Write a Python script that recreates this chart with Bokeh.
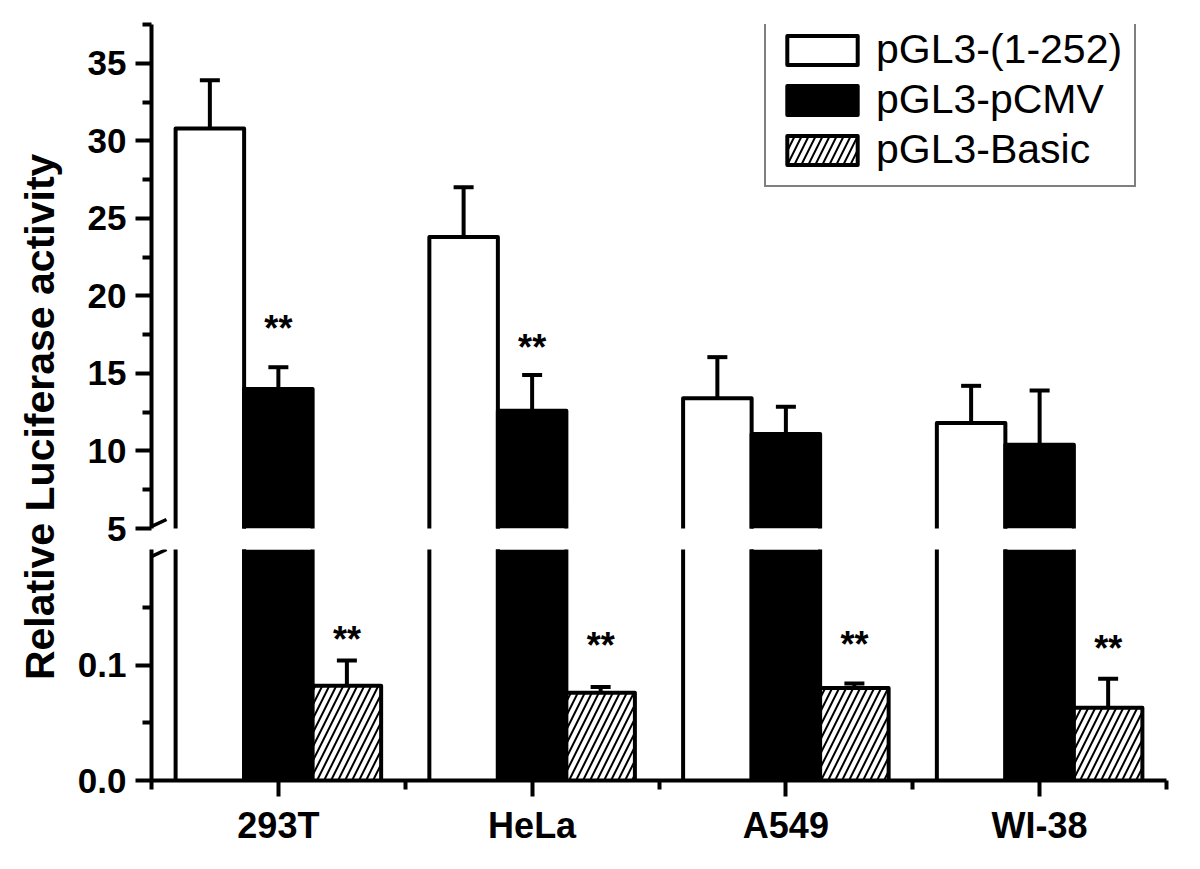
import math
from bokeh.plotting import figure
from bokeh.models import (Range1d, FixedTicker, PrintfTickFormatter, Whisker, TeeHead,
                          ColumnDataSource, Legend, LegendItem)
from bokeh.layouts import row, column
from bokeh.core.properties import value
from bokeh.embed import file_html
from bokeh.resources import INLINE

# ---------------- data ----------------
cells = ["293T", "HeLa", "A549", "WI-38"]
series = ["pGL3-(1-252)", "pGL3-pCMV", "pGL3-Basic"]

v_1_252 = [30.8, 23.8, 13.4, 11.8]
e_1_252 = [3.1, 3.2, 2.65, 2.4]
v_pcmv = [14.0, 12.6, 11.1, 10.4]
e_pcmv = [1.4, 2.3, 1.75, 3.5]
v_basic = [0.082, 0.076, 0.080, 0.063]
e_basic = [0.022, 0.005, 0.004, 0.025]

sig_pcmv = ["**", "**", "", ""]
sig_pcmv_y = [17.9, 16.7, 0, 0]
sig_basic = ["**", "**", "**", "**"]
sig_basic_y = [0.122, 0.117, 0.118, 0.114]

upper_ticks = [5, 10, 15, 20, 25, 30, 35]
upper_minor = [7.5, 12.5, 17.5, 22.5, 27.5, 32.5, 37.5]
lower_ticks = [0.0, 0.1]
lower_minor = [0.05, 0.15]
upper_span = (5, 37.5)
lower_span = (0, 0.2)
y_title = "Relative Luciferase activity"

# ---------------- style ----------------
FONT = "Liberation Sans"
OFF = 0.27
BW = 0.27
LW = 4
NAN = float("nan")

xs = [i + 1 for i in range(len(cells))]
x_white = [x - OFF for x in xs]
x_black = xs
x_hatch = [x + OFF for x in xs]

STYLES = [
    dict(fill_color="white"),
    dict(fill_color="black"),
    dict(fill_color="white", hatch_pattern="/", hatch_color="black", hatch_weight=2, hatch_scale=14),
]


def style_axis(ax, size="35px"):
    ax.axis_line_width = LW
    ax.axis_line_color = "black"
    ax.major_tick_line_width = LW
    ax.minor_tick_line_width = LW
    ax.major_tick_line_color = "black"
    ax.minor_tick_line_color = "black"
    ax.major_tick_out = 16
    ax.major_tick_in = 0
    ax.minor_tick_out = 9
    ax.minor_tick_in = 0
    ax.major_label_text_font = FONT
    ax.major_label_text_font_style = "bold"
    ax.major_label_text_font_size = size
    ax.major_label_text_color = "black"


def make_fig(height, yr, top, bottom, xaxis):
    p = figure(width=1107, height=height, x_range=Range1d(0.5, 4.5), y_range=Range1d(*yr),
               toolbar_location=None, output_backend="svg",
               x_axis_location=("below" if xaxis else None),
               min_border_left=80, min_border_right=12,
               min_border_top=top, min_border_bottom=bottom)
    p.outline_line_color = None
    p.grid.grid_line_color = None
    p.background_fill_color = "white"
    p.border_fill_color = "white"
    return p


def add_bars(p, floor):
    # only bars that reach into this segment; filled bodies + open outlines
    for xc, vals, st in zip([x_white, x_black, x_hatch], [v_1_252, v_pcmv, v_basic], STYLES):
        keep = [(x, v) for x, v in zip(xc, vals) if v > floor]
        if not keep:
            continue
        kx = [k[0] for k in keep]
        kv = [k[1] for k in keep]
        p.vbar(x=kx, top=kv, bottom=0, width=BW, line_color=None, **st)
        p.multi_line(xs=[[x - BW / 2, x - BW / 2, x + BW / 2, x + BW / 2] for x in kx],
                     ys=[[0, v, v, 0] for v in kv],
                     line_color="black", line_width=LW, line_join="round")


def legend_proxies(p):
    # style-only renderers for the legend (no data points drawn)
    return [p.vbar(x=[NAN], top=[NAN], bottom=0, width=BW, line_color="black",
                   line_width=LW, line_join="round", **st) for st in STYLES]


def add_whiskers(p, x, v, e):
    src = ColumnDataSource(dict(x=x, lower=v, upper=[a + b for a, b in zip(v, e)]))
    w = Whisker(source=src, base="x", lower="lower", upper="upper", dimension="height",
                line_width=LW, line_color="black",
                upper_head=TeeHead(size=20, line_width=LW, line_color="black"),
                lower_head=None)
    p.add_layout(w)


# ---------------- upper segment ----------------
up = make_fig(549, upper_span, 24, 21, False)
add_bars(up, upper_span[0])
prox = legend_proxies(up)
add_whiskers(up, x_white, v_1_252, e_1_252)
add_whiskers(up, x_black, v_pcmv, e_pcmv)
sx = [x for x, s in zip(x_black, sig_pcmv) if s]
sy = [y for y, s in zip(sig_pcmv_y, sig_pcmv) if s]
up.text(x=sx, y=sy, text=["**"] * len(sx), text_align="center", text_baseline="middle",
        text_font=value(FONT), text_font_style="bold", text_font_size="36px", text_color="black")
style_axis(up.yaxis[0])
up.yaxis[0].ticker = FixedTicker(ticks=upper_ticks, minor_ticks=upper_minor)
up.yaxis[0].major_label_standoff = 9
# axis-break mark at the foot of the upper segment
up.multi_line(xs=[[0.4409, 0.5591]], ys=[[4.678, 5.580]], line_color="black", line_width=3.5)

legend = Legend(items=[LegendItem(label=s, renderers=[r]) for s, r in zip(series, prox)],
                location=(613, 341), orientation="vertical",
                border_line_color="black", border_line_width=2,
                background_fill_color="white", background_fill_alpha=1,
                label_text_font=FONT, label_text_font_size="41px", label_text_color="black",
                glyph_width=88, glyph_height=36, padding=12, spacing=3,
                label_standoff=10, margin=0)
up.add_layout(legend)

# ---------------- lower segment ----------------
lo = make_fig(306, lower_span, 0, 75, True)
add_bars(lo, lower_span[0])
add_whiskers(lo, x_hatch, v_basic, e_basic)
lo.text(x=x_hatch, y=sig_basic_y, text=sig_basic, text_align="center", text_baseline="middle",
        text_font=value(FONT), text_font_style="bold", text_font_size="36px", text_color="black")
style_axis(lo.yaxis[0])
lo.yaxis[0].ticker = FixedTicker(ticks=lower_ticks, minor_ticks=lower_minor)
lo.yaxis[0].formatter = PrintfTickFormatter(format="%.1f")
lo.yaxis[0].major_label_standoff = 9
style_axis(lo.xaxis[0], "36px")
lo.xaxis[0].ticker = FixedTicker(ticks=xs, minor_ticks=[0.5, 1.5, 2.5, 3.5, 4.5])
lo.xaxis[0].major_label_overrides = {x: c for x, c in zip(xs, cells)}
lo.xaxis[0].major_label_standoff = 8
# axis-break mark at the head of the lower segment
lo.multi_line(xs=[[0.4409, 0.5591]], ys=[[0.1879, 0.2]], line_color="black", line_width=3.5)

# ---------------- y title ----------------
lab = figure(width=71, height=855, x_range=Range1d(0, 1), y_range=Range1d(0, 1),
             toolbar_location=None, output_backend="svg",
             x_axis_location=None, y_axis_location=None, min_border=0)
lab.outline_line_color = None
lab.grid.grid_line_color = None
lab.text(x=[0.56], y=[0.513], text=[y_title], angle=math.pi / 2,
         text_align="center", text_baseline="middle",
         text_font=value(FONT), text_font_style="bold", text_font_size="41px",
         text_color="black")

layout = row(lab, column(up, lo))
open("out.html", "w").write(file_html(layout, INLINE))
